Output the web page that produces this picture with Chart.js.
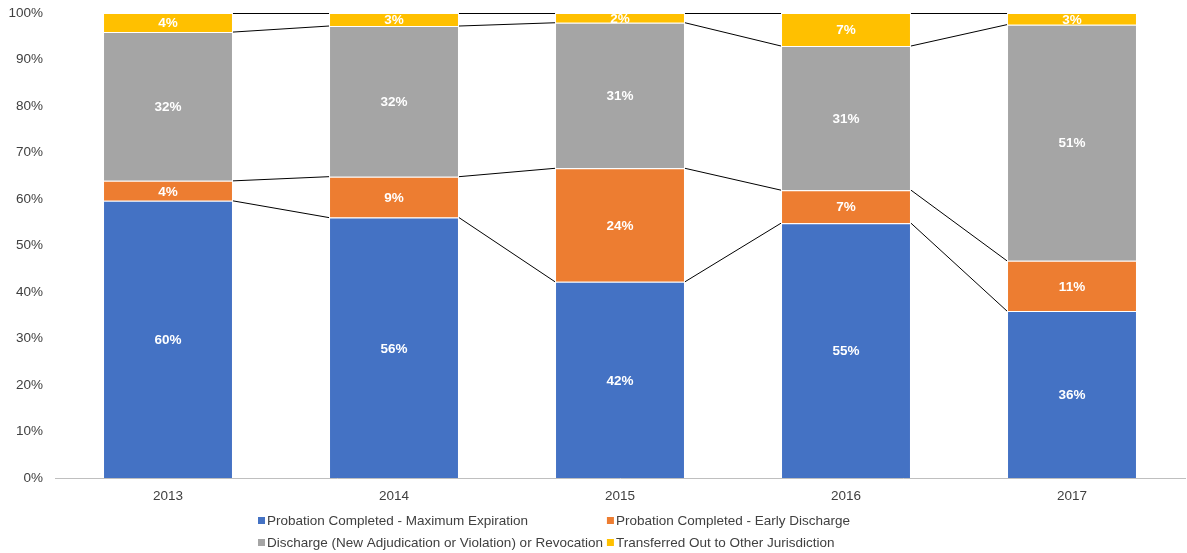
<!DOCTYPE html>
<html>
<head>
<meta charset="utf-8">
<script src="https://cdn.jsdelivr.net/npm/chart.js@4/dist/chart.umd.min.js"></script>
<style>
  html, body { margin: 0; padding: 0; background: #fff; }
  #wrap { width: 1187px; height: 553px; }
</style>
</head>
<body>
<div id="wrap"><canvas id="chart"></canvas></div>
<script>
var years = ['2013', '2014', '2015', '2016', '2017'];
var maxExpiration = [59.6, 56.0, 42.2, 54.8, 35.9];
var earlyDischarge = [4.3, 8.8, 24.4, 7.1, 10.8];
var revocation = [32.0, 32.4, 31.3, 31.0, 50.8];
var transferred = [4.1, 2.8, 2.1, 7.1, 2.5];
var seriesNames = [
  'Probation Completed - Maximum Expiration',
  'Probation Completed - Early Discharge',
  'Discharge (New Adjudication or Violation) or Revocation',
  'Transferred Out to Other Jurisdiction'
];
var seriesColors = ['#4472C4', '#ED7D31', '#A5A5A5', '#FFC000'];
var seriesValues = [maxExpiration, earlyDischarge, revocation, transferred];

var FONT = '"Liberation Sans", Arial, sans-serif';

// excel style series lines between stacked bars
var seriesLines = {
  id: 'seriesLines',
  afterDatasetsDraw: function (chart) {
    var ctx = chart.ctx;
    ctx.save();
    ctx.strokeStyle = '#000';
    ctx.lineWidth = 1;
    chart.data.datasets.forEach(function (ds, i) {
      var bars = chart.getDatasetMeta(i).data;
      for (var j = 0; j < bars.length - 1; j++) {
        var a = bars[j], b = bars[j + 1];
        var ya = a.y, yb = b.y;
        if (Math.abs(ya - yb) < 0.5) { ya = yb = Math.round(ya) + 0.5; } // keep flat lines crisp
        ctx.beginPath();
        ctx.moveTo(a.x + a.width / 2, ya);
        ctx.lineTo(b.x - b.width / 2, yb);
        ctx.stroke();
      }
    });
    // value labels
    ctx.fillStyle = '#fff';
    ctx.font = 'bold 13.5px ' + FONT;
    ctx.textAlign = 'center';
    ctx.textBaseline = 'middle';
    chart.data.datasets.forEach(function (ds, i) {
      chart.getDatasetMeta(i).data.forEach(function (bar, j) {
        ctx.fillText(Math.round(ds.data[j]) + '%', bar.x, (bar.y + bar.base) / 2 + 1);
      });
    });
    ctx.restore();
  }
};

// two-column legend at the bottom
var gridLegend = {
  id: 'gridLegend',
  afterDraw: function (chart) {
    var ctx = chart.ctx;
    ctx.save();
    ctx.font = '13.5px ' + FONT;
    ctx.textBaseline = 'middle';
    ctx.textAlign = 'left';
    var col1 = Math.max(ctx.measureText(seriesNames[0]).width, ctx.measureText(seriesNames[2]).width);
    var x0 = 258, x1 = x0 + 9 + col1 + 4;
    var rows = [521, 543];
    seriesNames.forEach(function (name, i) {
      var x = i % 2 === 0 ? x0 : x1;
      var y = rows[Math.floor(i / 2)];
      ctx.fillStyle = seriesColors[i];
      ctx.fillRect(x, y - 4, 7, 7);
      ctx.fillStyle = '#404040';
      ctx.fillText(name, x + 9, y);
    });
    ctx.restore();
  }
};

var chart = new Chart(document.getElementById('chart'), {
  type: 'bar',
  plugins: [seriesLines, gridLegend],
  data: {
    labels: years,
    datasets: seriesValues.map(function (vals, i) {
      return {
        label: seriesNames[i],
        data: vals,
        backgroundColor: seriesColors[i],
        borderColor: 'rgba(255,255,255,0.7)',
        borderWidth: 1,
        categoryPercentage: 1,
        barPercentage: 0.575
      };
    })
  },
  options: {
    responsive: true,
    maintainAspectRatio: false,
    animation: false,
    layout: {
      padding: { top: 0, right: 2, bottom: 50, left: 0 }
    },
    plugins: {
      legend: { display: false },
      tooltip: { enabled: false }
    },
    scales: {
      x: {
        stacked: true,
        grid: { display: false, drawTicks: false },
        border: { display: true, color: '#bfbfbf', width: 1 },
        ticks: { color: '#404040', font: { size: 13.5, family: FONT }, padding: 10 },
        afterFit: function (s) { s.height = 25; }
      },
      y: {
        stacked: true,
        min: 0,
        max: 100,
        grid: { display: false, drawTicks: false },
        border: { display: false },
        ticks: {
          stepSize: 10,
          color: '#404040',
          font: { size: 13.5, family: FONT },
          padding: 12,
          callback: function (v) { return v + '%'; }
        },
        afterFit: function (s) { s.width = 55; s.paddingTop = 13; }
      }
    }
  }
});
</script>
</body>
</html>
